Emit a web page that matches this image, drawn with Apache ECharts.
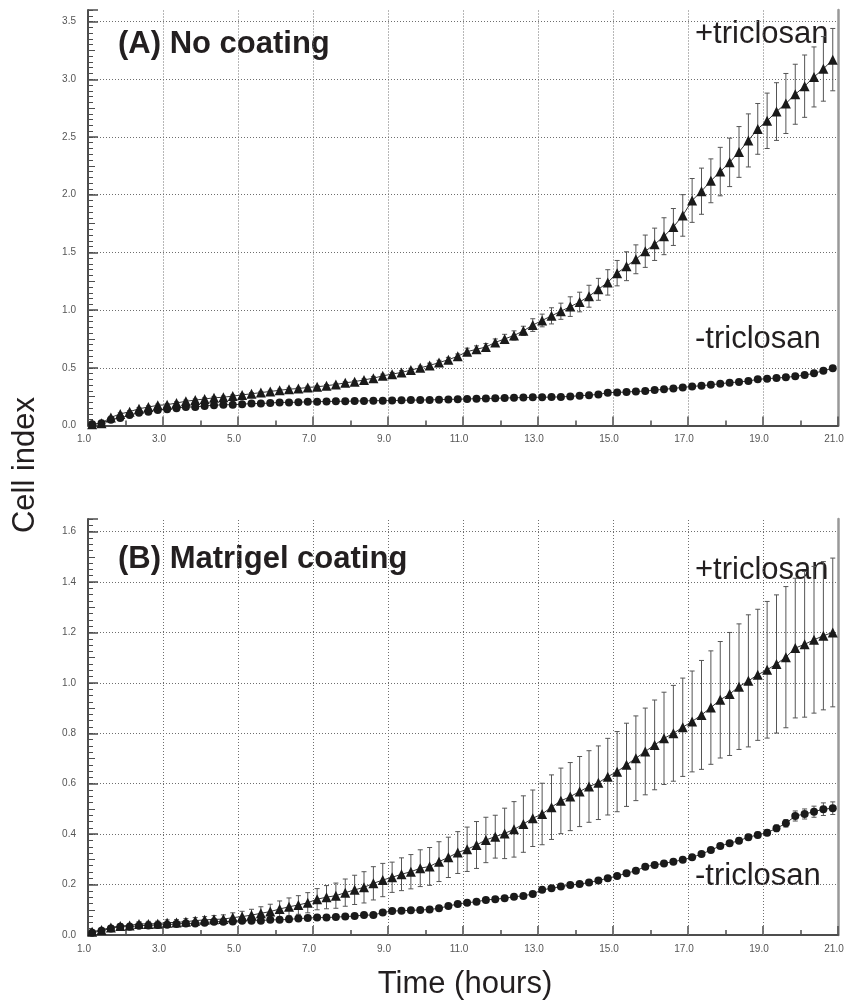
<!DOCTYPE html>
<html>
<head>
<meta charset="utf-8">
<script src="https://cdn.jsdelivr.net/npm/echarts@6/dist/echarts.min.js"></script>
<style>
html,body{margin:0;padding:0;background:#fff;}
#chart{width:851px;height:1002px;}
</style>
</head>
<body>
<div id="chart"></div>
<script>
// ---- data ----
const hours = [1.11,1.36,1.61,1.86,2.11,2.36,2.61,2.86,3.11,3.36,
  3.61,3.86,4.11,4.36,4.61,4.86,5.11,5.36,5.61,5.86,
  6.11,6.36,6.61,6.86,7.11,7.36,7.61,7.86,8.11,8.36,
  8.61,8.86,9.11,9.36,9.61,9.86,10.11,10.36,10.61,10.86,
  11.11,11.36,11.61,11.86,12.11,12.36,12.61,12.86,13.11,13.36,
  13.61,13.86,14.11,14.36,14.61,14.86,15.11,15.36,15.61,15.86,
  16.11,16.36,16.61,16.86,17.11,17.36,17.61,17.86,18.11,18.36,
  18.61,18.86,19.11,19.36,19.61,19.86,20.11,20.36,20.61,20.86];

// (A) No coating, +triclosan
const noCoatPlus = [0.01,0.02,0.07,0.10,0.12,0.145,0.16,0.175,0.18,0.195,
  0.21,0.22,0.23,0.24,0.245,0.255,0.265,0.275,0.285,0.295,
  0.305,0.315,0.32,0.33,0.335,0.345,0.355,0.37,0.38,0.395,
  0.41,0.43,0.445,0.46,0.48,0.50,0.52,0.545,0.57,0.60,
  0.64,0.66,0.68,0.72,0.75,0.78,0.82,0.87,0.91,0.95,
  0.99,1.03,1.07,1.12,1.18,1.24,1.32,1.38,1.44,1.51,
  1.57,1.64,1.72,1.82,1.95,2.03,2.12,2.20,2.28,2.37,
  2.47,2.57,2.64,2.72,2.79,2.87,2.94,3.02,3.09,3.17];
const noCoatPlusErr = [0.01,0.01,0.01,0.01,0.01,0.01,0.01,0.01,0.01,0.01,
  0.01,0.01,0.01,0.01,0.01,0.01,0.01,0.01,0.01,0.01,
  0.01,0.01,0.01,0.01,0.01,0.01,0.01,0.01,0.01,0.01,
  0.015,0.015,0.015,0.015,0.015,0.015,0.02,0.02,0.02,0.02,
  0.03,0.03,0.03,0.03,0.04,0.04,0.04,0.055,0.055,0.07,
  0.07,0.085,0.085,0.095,0.095,0.11,0.11,0.125,0.125,0.14,
  0.14,0.16,0.16,0.18,0.19,0.20,0.19,0.21,0.21,0.22,
  0.23,0.22,0.24,0.25,0.26,0.26,0.27,0.26,0.28,0.27];

// (A) No coating, -triclosan
const noCoatMinus = [0.01,0.02,0.05,0.065,0.09,0.11,0.12,0.135,0.14,0.15,
  0.16,0.16,0.17,0.175,0.18,0.18,0.185,0.19,0.19,0.195,
  0.20,0.20,0.202,0.205,0.206,0.208,0.21,0.21,0.212,0.213,
  0.215,0.215,0.216,0.218,0.22,0.22,0.222,0.224,0.226,0.228,
  0.23,0.232,0.234,0.236,0.238,0.24,0.242,0.244,0.245,0.246,
  0.248,0.252,0.258,0.263,0.269,0.284,0.287,0.29,0.295,0.298,
  0.307,0.313,0.321,0.33,0.338,0.345,0.353,0.362,0.371,0.377,
  0.385,0.40,0.406,0.411,0.417,0.426,0.437,0.452,0.475,0.495];
const noCoatMinusErr = [0.01,0.01,0.01,0.01,0.01,0.01,0.01,0.01,0.01,0.01,
  0.01,0.01,0.01,0.01,0.01,0.01,0.01,0.01,0.01,0.01,
  0.01,0.01,0.01,0.01,0.01,0.01,0.01,0.01,0.01,0.01,
  0.01,0.01,0.01,0.01,0.01,0.01,0.01,0.01,0.01,0.01,
  0.01,0.01,0.01,0.01,0.01,0.01,0.01,0.01,0.01,0.01,
  0.01,0.01,0.01,0.01,0.01,0.01,0.01,0.01,0.01,0.01,
  0.01,0.01,0.01,0.01,0.01,0.01,0.01,0.01,0.01,0.01,
  0.01,0.012,0.012,0.012,0.012,0.015,0.015,0.015,0.015,0.015];

// (B) Matrigel coating, +triclosan
const matrigelPlus = [0.013,0.02,0.03,0.036,0.038,0.044,0.044,0.045,0.049,0.05,
  0.053,0.057,0.06,0.062,0.063,0.069,0.073,0.079,0.086,0.093,
  0.103,0.112,0.119,0.128,0.142,0.15,0.156,0.168,0.179,0.189,
  0.205,0.218,0.229,0.241,0.251,0.265,0.272,0.291,0.308,0.327,
  0.34,0.357,0.377,0.39,0.403,0.419,0.44,0.463,0.48,0.507,
  0.532,0.549,0.569,0.589,0.604,0.628,0.648,0.675,0.701,0.728,
  0.754,0.78,0.80,0.824,0.847,0.873,0.902,0.933,0.956,0.985,
  1.008,1.032,1.052,1.075,1.102,1.138,1.153,1.171,1.187,1.2];
const matrigelPlusErr = [0.005,0.006,0.007,0.008,0.008,0.009,0.01,0.01,0.011,0.011,
  0.012,0.012,0.013,0.015,0.017,0.019,0.021,0.023,0.026,0.029,
  0.032,0.035,0.037,0.04,0.042,0.046,0.05,0.054,0.058,0.062,
  0.066,0.066,0.06,0.065,0.068,0.073,0.075,0.079,0.08,0.083,
  0.088,0.093,0.09,0.085,0.10,0.11,0.112,0.112,0.122,0.128,
  0.13,0.135,0.139,0.142,0.146,0.152,0.159,0.165,0.168,0.172,
  0.178,0.183,0.19,0.195,0.2,0.216,0.225,0.231,0.244,0.249,
  0.262,0.26,0.271,0.274,0.28,0.277,0.289,0.291,0.294,0.295];

// (B) Matrigel coating, -triclosan
const matrigelMinus = [0.009,0.017,0.026,0.033,0.033,0.037,0.038,0.04,0.041,0.044,
  0.046,0.046,0.049,0.053,0.053,0.054,0.057,0.057,0.057,0.06,
  0.06,0.062,0.065,0.067,0.069,0.069,0.071,0.073,0.075,0.079,
  0.079,0.089,0.095,0.096,0.098,0.099,0.101,0.106,0.115,0.123,
  0.128,0.132,0.139,0.142,0.146,0.152,0.155,0.163,0.179,0.185,
  0.192,0.198,0.202,0.208,0.216,0.225,0.234,0.245,0.255,0.271,
  0.278,0.284,0.291,0.298,0.308,0.321,0.337,0.353,0.364,0.374,
  0.388,0.397,0.406,0.423,0.443,0.472,0.48,0.489,0.499,0.503];
const matrigelMinusErr = [0.004,0.004,0.004,0.004,0.004,0.004,0.004,0.004,0.004,0.004,
  0.004,0.004,0.004,0.004,0.004,0.004,0.004,0.004,0.004,0.004,
  0.004,0.004,0.004,0.004,0.004,0.004,0.004,0.004,0.004,0.004,
  0.005,0.005,0.005,0.005,0.005,0.005,0.005,0.005,0.005,0.005,
  0.005,0.005,0.005,0.005,0.005,0.005,0.005,0.005,0.006,0.006,
  0.006,0.006,0.006,0.006,0.006,0.006,0.006,0.006,0.007,0.007,
  0.007,0.007,0.008,0.008,0.008,0.009,0.009,0.01,0.01,0.01,
  0.011,0.011,0.012,0.013,0.015,0.02,0.02,0.022,0.025,0.025];

const xMajorTicks = [1,3,5,7,9,11,13,15,17,19,21];
const xMinorTicks = [2,4,6,8,10,12,14,16,18,20];
const xGridLines = [3,5,7,9,11,13,15,17,19];

// ---- chart ----
const AXIS = '#4d4d4d';
const LABEL = '#555';
const FONT = '"Liberation Sans", Arial, Helvetica, sans-serif';
const TXT = '#231f20';
const GRIDLINE = { color: '#6e6e6e', type: [1, 2], width: 1 };

function xAxesFor(g) {
  return [
    { gridIndex: g, type: 'value', position: 'bottom', min: 1, max: 21,
      axisLine: { show: true, lineStyle: { color: AXIS, width: 2 } },
      axisTick: { show: true, inside: true, length: 9, customValues: xMajorTicks, lineStyle: { color: AXIS, width: 1.5 } },
      axisLabel: { show: true, customValues: xMajorTicks, formatter: v => v.toFixed(1), fontSize: 10, color: LABEL, fontFamily: FONT, margin: 9, padding: [0, 8, 0, 0] },
      splitLine: { show: false } },
    { gridIndex: g, type: 'value', position: 'bottom', min: 1, max: 21,
      axisLine: { show: false },
      axisTick: { show: true, inside: true, length: 5, customValues: xMinorTicks, lineStyle: { color: AXIS, width: 1.5 } },
      axisLabel: { show: false },
      splitLine: { show: false } }
  ];
}
function yAxesFor(g, max, interval, minorInterval) {
  return [
    { gridIndex: g, type: 'value', position: 'left', min: 0, max: max, interval: interval,
      axisLine: { show: true, lineStyle: { color: AXIS, width: 2 } },
      axisTick: { show: true, inside: true, length: 10, lineStyle: { color: AXIS, width: 1.5 } },
      minorTick: { show: true, splitNumber: 2, length: 7, lineStyle: { color: AXIS, width: 1 } },
      axisLabel: { show: true, formatter: v => v.toFixed(1), fontSize: 10, color: LABEL, fontFamily: FONT, margin: 12, showMaxLabel: false, padding: [0, 0, 6, 0] },
      splitLine: { show: true, showMinLine: false, showMaxLine: false, lineStyle: GRIDLINE } },
    { gridIndex: g, type: 'value', position: 'left', offset: 0, min: 0, max: max, interval: minorInterval,
      axisLine: { show: false },
      axisTick: { show: true, inside: true, length: 5, lineStyle: { color: AXIS, width: 1 } },
      axisLabel: { show: false },
      splitLine: { show: false } },
    { gridIndex: g, type: 'value', position: 'right', min: 0, max: max,
      axisLine: { show: true, lineStyle: { color: '#999', width: 2.5 } },
      axisTick: { show: false }, axisLabel: { show: false }, splitLine: { show: false } }
  ];
}

function errorSeries(xi, yi, values, errs) {
  return {
    type: 'custom', xAxisIndex: xi, yAxisIndex: yi, z: 2, silent: true, animation: false,
    data: hours.map((t, i) => [t, values[i] - errs[i], values[i] + errs[i]]),
    encode: { x: 0, y: [1, 2] },
    renderItem: function (params, api) {
      const x = api.value(0);
      const lo = api.coord([x, api.value(1)]);
      const hi = api.coord([x, api.value(2)]);
      const w = 2.5;
      const st = { stroke: '#555', lineWidth: 1 };
      return { type: 'group', children: [
        { type: 'line', shape: { x1: lo[0], y1: lo[1], x2: hi[0], y2: hi[1] }, style: st },
        { type: 'line', shape: { x1: lo[0] - w, y1: lo[1], x2: lo[0] + w, y2: lo[1] }, style: st },
        { type: 'line', shape: { x1: hi[0] - w, y1: hi[1], x2: hi[0] + w, y2: hi[1] }, style: st }
      ] };
    }
  };
}
function lineSeries(xi, yi, values, symbol, size, gridLines) {
  const s = {
    type: 'line', xAxisIndex: xi, yAxisIndex: yi, z: 3, animation: false,
    data: hours.map((t, i) => [t, values[i]]),
    symbol: symbol, symbolSize: size, showSymbol: true, showAllSymbol: true,
    itemStyle: { color: '#1a1a1a' },
    lineStyle: { color: '#333', width: 1 }
  };
  if (gridLines) {
    s.markLine = {
      silent: true, symbol: 'none', animation: false, z: 1,
      label: { show: false },
      lineStyle: GRIDLINE,
      data: xGridLines.map(v => ({ xAxis: v }))
    };
  }
  return s;
}

const chart = echarts.init(document.getElementById('chart'), null, { renderer: 'canvas' });
chart.setOption({
  animation: false,
  backgroundColor: '#fff',
  grid: [
    { left: 88, top: 10, width: 750, height: 415.5 },
    { left: 88, top: 519, width: 750, height: 416 }
  ],
  xAxis: [].concat(xAxesFor(0), xAxesFor(1)),
  yAxis: [].concat(yAxesFor(0, 3.6, 0.5, 0.05), yAxesFor(1, 1.65, 0.2, 0.025)),
  series: [
    errorSeries(0, 0, noCoatPlus, noCoatPlusErr),
    errorSeries(0, 0, noCoatMinus, noCoatMinusErr),
    lineSeries(0, 0, noCoatMinus, 'circle', 8, true),
    lineSeries(0, 0, noCoatPlus, 'triangle', 10, false),
    errorSeries(2, 3, matrigelPlus, matrigelPlusErr),
    errorSeries(2, 3, matrigelMinus, matrigelMinusErr),
    lineSeries(2, 3, matrigelMinus, 'circle', 8, true),
    lineSeries(2, 3, matrigelPlus, 'triangle', 10, false)
  ],
  graphic: [
    { type: 'text', x: 118, y: 44, style: { text: '(A) No coating', font: 'bold 31px ' + FONT, fill: TXT, verticalAlign: 'middle' } },
    { type: 'text', x: 695, y: 34, style: { text: '+triclosan', font: '31px ' + FONT, fill: TXT, verticalAlign: 'middle' } },
    { type: 'text', x: 695, y: 339, style: { text: '-triclosan', font: '31px ' + FONT, fill: TXT, verticalAlign: 'middle' } },
    { type: 'text', x: 118, y: 559, style: { text: '(B) Matrigel coating', font: 'bold 31px ' + FONT, fill: TXT, verticalAlign: 'middle' } },
    { type: 'text', x: 695, y: 570, style: { text: '+triclosan', font: '31px ' + FONT, fill: TXT, verticalAlign: 'middle' } },
    { type: 'text', x: 695, y: 876, style: { text: '-triclosan', font: '31px ' + FONT, fill: TXT, verticalAlign: 'middle' } },
    { type: 'text', x: 25, y: 465, rotation: Math.PI / 2, style: { text: 'Cell index', font: '31px ' + FONT, fill: TXT, align: 'center', verticalAlign: 'middle' } },
    { type: 'text', x: 465, y: 984, style: { text: 'Time (hours)', font: '31px ' + FONT, fill: TXT, align: 'center', verticalAlign: 'middle' } }
  ]
});
</script>
</body>
</html>
